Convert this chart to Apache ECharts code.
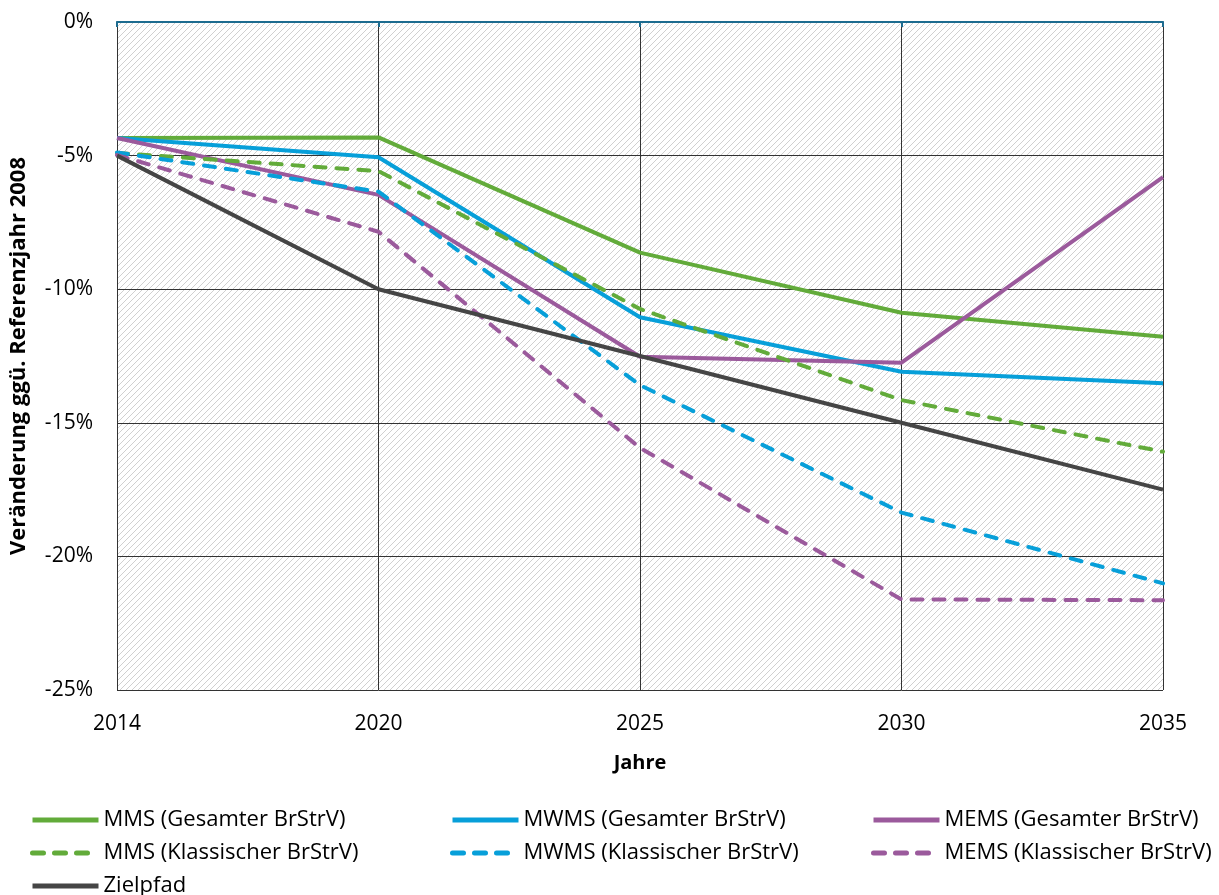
<!DOCTYPE html>
<html>
<head>
<meta charset="utf-8">
<script src="https://cdn.jsdelivr.net/npm/echarts@6/dist/echarts.min.js"></script>
<style>
  html, body { margin: 0; padding: 0; background: #fff; }
  #chart { width: 1219px; height: 895px; }
</style>
</head>
<body>
<div id="chart"></div>
<script>
// Years on the x axis (equally spaced categories)
const years = ['2014', '2020', '2025', '2030', '2035'];

// Change vs. reference year 2008, in percent
const mmsGesamt = [-4.34, -4.32, -8.63, -10.88, -11.78];
const mwmsGesamt = [-4.34, -5.06, -11.05, -13.09, -13.52];
const memsGesamt = [-4.34, -6.47, -12.53, -12.75, -5.81];
const mmsKlassisch = [-4.9, -5.58, -10.74, -14.15, -16.08];
const mwmsKlassisch = [-4.88, -6.35, -13.59, -18.36, -21.01];
const memsKlassisch = [-4.98, -7.85, -15.94, -21.61, -21.64];
const zielpfad = [-5.0, -10.0, -12.5, -15.0, -17.5];

const GREEN = '#62ab3a';
const BLUE = '#079fd9';
const PURPLE = '#9b5a9c';
const GREY = '#454545';
const FONT = '"Open Sans", sans-serif';

// Hatched plot background ("/" stripes)
const makeHatch = () => {
  const size = 6;
  const c = document.createElement('canvas');
  c.width = size;
  c.height = size;
  const ctx = c.getContext('2d');
  ctx.fillStyle = '#ffffff';
  ctx.fillRect(0, 0, size, size);
  ctx.strokeStyle = '#d0d0d0';
  ctx.lineWidth = 1;
  ctx.beginPath();
  ctx.moveTo(-1, size + 1);
  ctx.lineTo(size + 1, -1);
  ctx.moveTo(-1, 1);
  ctx.lineTo(1, -1);
  ctx.moveTo(size - 1, size + 1);
  ctx.lineTo(size + 1, size - 1);
  ctx.stroke();
  return c;
};

const lineSeries = (name, data, color, dashed) => ({
  name,
  type: 'line',
  data,
  xAxisIndex: 0,
  symbol: 'none',
  lineStyle: {
    width: 4,
    color,
    type: dashed ? [11, 11] : 'solid',
    cap: dashed ? 'round' : 'butt',
  },
  itemStyle: { color },
  z: 3,
});

const legendBase = {
  orient: 'vertical',
  top: 808,
  height: 120,
  itemWidth: 66,
  itemHeight: 14,
  itemGap: 9,
  padding: 0,
  itemStyle: { opacity: 0 },
  lineStyle: { width: 5 },
  textStyle: { fontFamily: FONT, fontSize: 22, lineHeight: 24, color: '#000' },
};

const chart = echarts.init(document.getElementById('chart'));
chart.setOption({
  animation: false,
  backgroundColor: '#fff',
  grid: {
    left: 117,
    right: 56,
    top: 22,
    bottom: 205,
    show: true,
    borderWidth: 0,
    backgroundColor: { image: makeHatch(), repeat: 'repeat' },
  },
  legend: [
    Object.assign({}, legendBase, { left: 30, data: ['MMS (Gesamter BrStrV)', 'MMS (Klassischer BrStrV)', 'Zielpfad'] }),
    Object.assign({}, legendBase, { left: 450, data: ['MWMS (Gesamter BrStrV)', 'MWMS (Klassischer BrStrV)'] }),
    Object.assign({}, legendBase, { left: 871, data: ['MEMS (Gesamter BrStrV)', 'MEMS (Klassischer BrStrV)'] }),
  ],
  xAxis: [
    {
      type: 'category',
      data: years,
      boundaryGap: false,
      position: 'bottom',
      name: 'Jahre',
      nameLocation: 'middle',
      nameGap: 63,
      nameTextStyle: { fontFamily: FONT, fontSize: 20, fontWeight: 'bold', color: '#000' },
      axisLine: { show: true, lineStyle: { color: '#595959', width: 1.5 } },
      axisTick: { show: false },
      axisLabel: { fontFamily: FONT, fontSize: 21, color: '#000', margin: 24 },
      splitLine: { show: true, lineStyle: { color: '#333', width: 1 } },
    },
    {
      type: 'category',
      data: years,
      boundaryGap: false,
      position: 'top',
      axisLine: { show: true, lineStyle: { color: '#1d6c90', width: 2 } },
      axisTick: { show: true, inside: true, length: 5, lineStyle: { color: '#1d6c90', width: 2 } },
      axisLabel: { show: false },
      splitLine: { show: false },
    },
  ],
  yAxis: {
    type: 'value',
    min: -25,
    max: 0,
    interval: 5,
    name: 'Veränderung ggü. Referenzjahr 2008',
    nameLocation: 'middle',
    nameGap: 87,
    nameTextStyle: { fontFamily: FONT, fontSize: 22, fontWeight: 'bold', color: '#000' },
    axisLine: { show: true, lineStyle: { color: '#333', width: 1 } },
    axisTick: { show: false },
    axisLabel: {
      fontFamily: FONT,
      fontSize: 21,
      color: '#000',
      margin: 24,
      formatter: (v) => `${v}%`,
    },
    splitLine: { show: true, lineStyle: { color: '#333', width: 1 } },
  },
  series: [
    lineSeries('MMS (Gesamter BrStrV)', mmsGesamt, GREEN, false),
    lineSeries('MWMS (Gesamter BrStrV)', mwmsGesamt, BLUE, false),
    lineSeries('MEMS (Gesamter BrStrV)', memsGesamt, PURPLE, false),
    lineSeries('MMS (Klassischer BrStrV)', mmsKlassisch, GREEN, true),
    lineSeries('MWMS (Klassischer BrStrV)', mwmsKlassisch, BLUE, true),
    lineSeries('MEMS (Klassischer BrStrV)', memsKlassisch, PURPLE, true),
    lineSeries('Zielpfad', zielpfad, GREY, false),
  ],
});
</script>
</body>
</html>
